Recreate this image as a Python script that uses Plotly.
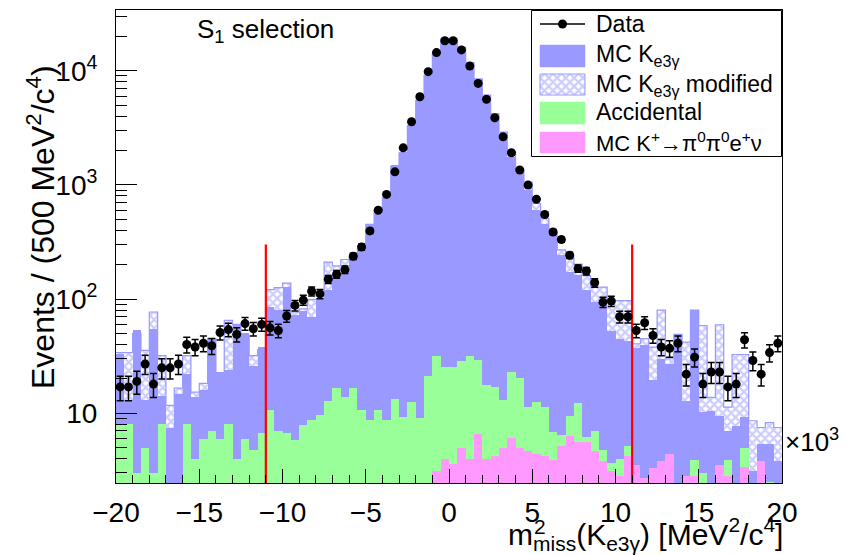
import numpy as np
import plotly.graph_objects as go

# ---------------------------------------------------------------------------
# Binning: m^2_miss(Ke3g) in units of 10^3 MeV^2/c^4, 80 bins of 0.5
# ---------------------------------------------------------------------------
x_lo, x_hi, bin_w = -20.0, 20.0, 0.5
n_bins = int(round((x_hi - x_lo) / bin_w))
centers = x_lo + bin_w * (np.arange(n_bins) + 0.5)

# Data counts per bin
data_counts = [
    17, 17, 19, 27, 18, 25, 25, 27, 40, 38, 41, 39, 51, 54, 49, 61,
    55, 60, 56, 53, 71, 88, 98, 117, 111, 149, 165, 181, 237, 286, 395, 600,
    825, 1300, 2110, 3570, 5910, 9800, 14400, 18300, 18300, 15200, 11000, 7740, 5610, 3870,
    2640, 1910, 1350, 995, 749, 550, 387, 332, 242, 185, 176, 139, 94, 96, 70, 70,
    53, 62, 48, 38, 37, 41, 22, 31, 18, 23, 23, 17, 18, 44, 29, 22, 34, 41,
]

# MC K+ -> pi0 pi0 e+ nu (bottom of the stack)
mc_pi0pi0enu = [0.0] * 38 + [
    3.1, 4.0, 3.6, 5.0, 4.0, 6.6, 4.0, 4.2, 5.0, 6.1, 5.0, 4.7, 4.4, 4.2, 3.9, 5.2,
    6.3, 5.6, 5.6, 4.7, 3.8, 3.1, 2.8, 4.2, 3.5, 2.7, 3.3, 3.8, 4.4, 0, 2.8, 2.8,
    0, 0, 3.5, 2.8, 0, 3.4, 0, 3.8, 0, 0,
]

# Accidental background
accidental = [
    8, 8, 3, 5, 3, 8, 0, 0, 8, 4, 6, 7, 6, 8, 4, 6,
    4.8, 6.7, 10.6, 7.0, 6.7, 5.8, 7.9, 8.7, 9.6, 12.9, 16.7, 14, 16.7, 10.7, 8.8, 10.6,
    8.8, 13.3, 9.3, 12.6, 9.0, 21,
    28.9, 21.5, 21.9, 23.5, 28, 22.6, 13.8, 12.7, 8, 16.7, 15.5, 6.6, 8.1, 7.1, 2.95, 1.3,
    3.2, 6.6, 0.6, 2.3, 0.95, 0.6, 1.2, 1.0, 0, 0, 0, 0, 0, 0, 0, 1.1,
    3.0, 0, 0, 1.1, 0, 1.6, 0, 0, 2.5, 0,
]

# MC Ke3g signal (top of the stack)
mc_ke3g = [
    25, 5, 51, 8, 52, 6.3, 7.5, 14.8, 14, 9.8, 10, 39, 17, 15.7, 57, 44,
    21.2, 31.3, 74.4, 74, 120.3, 66.2, 70.1, 61.3, 93.4, 106.1, 144.3, 171, 216.3, 266.3, 434.2, 550.4,
    751.2, 1476.7, 1940.7, 3327.4, 5521, 9149, 14168, 19474, 19474, 16171, 11718, 8371, 5982, 4073,
    2777, 1727, 1280, 889, 588, 447, 367, 235.5, 162.5, 150.8, 112.8, 87, 86.3, 48.3, 41, 37.8,
    33.5, 37.3, 16.1, 26.2, 22.6, 48, 10.1, 77.1, 7.2, 10.5, 6, 3.1, 7.7, 4.2, 3.1, 1.6, 2.9, 3.85,
]

# Alternative (modified) Ke3g MC, total expectation
mc_ke3g_modified = [
    34, 34, 50, 35.5, 77, 32, 11.7, 16.6, 32, 15.3, 18.3, 45, 22, 65, 60, 48,
    32, 36, 121, 126, 138, 77, 82, 99, 100, 211, 195, 222, 230, 275, 450, 590,
    770, 1450, 1900, 3300, 5500, 9100, 14000, 19000, 19000, 16000, 11800, 8500, 6100, 4200,
    2900, 1950, 1350, 1060, 687, 507, 385, 270, 233, 202, 160, 127, 127, 97, 97, 97,
    40.6, 45, 38, 80, 30, 49, 42, 80, 58.7, 13.8, 59.6, 11.3, 32.7, 32.7, 8.6, 7.5, 8.3, 7.5,
]

# Signal-region cuts and the height of the cut markers
cut_positions = [-11.0, 11.0]
cut_marker_top = 300.0

y_min, y_max = 2.45, 34000.0

# ---------------------------------------------------------------------------
BLUE = "#9999ff"
GREEN = "#99ff99"
PINK = "#ff99ff"
FONT = "Liberation Sans, Arial, Helvetica, sans-serif"
HATCH = dict(shape="x", fgcolor=BLUE, bgcolor="white", size=6, solidity=0.6)

pink = np.array(mc_pi0pi0enu, float)
acc_top = pink + np.array(accidental, float)
all_top = acc_top + np.array(mc_ke3g, float)
mod = np.array(mc_ke3g_modified, float)
data = np.array(data_counts, float)


def pos(a):
    a = np.asarray(a, float)
    return np.where(a > 0, a, np.nan)


fig = go.Figure()

bar_common = dict(x=centers, width=bin_w, marker_line_width=0, hoverinfo="skip", showlegend=False)

# modified MC, hatched, drawn behind the solid stack
fig.add_trace(go.Bar(y=pos(mod), marker=dict(color="white", pattern=HATCH), **bar_common))
# step outline of modified MC
step_x = np.repeat(x_lo + bin_w * np.arange(n_bins + 1), 2)[1:-1]
step_y = np.repeat(mod, 2)
fig.add_trace(go.Scatter(x=step_x, y=step_y, mode="lines", line=dict(color=BLUE, width=1.2),
                         hoverinfo="skip", showlegend=False))

# stacked solid histograms
fig.add_trace(go.Bar(y=pos(all_top), marker_color=BLUE, **bar_common))
fig.add_trace(go.Bar(y=pos(acc_top), marker_color=GREEN, **bar_common))
fig.add_trace(go.Bar(y=pos(pink), marker_color=PINK, **bar_common))

# cut lines
for c in cut_positions:
    fig.add_trace(go.Scatter(x=[c, c], y=[1.0, cut_marker_top], mode="lines",
                             line=dict(color="#ff0000", width=2.2), hoverinfo="skip", showlegend=False))

# data points
fig.add_trace(go.Scatter(
    x=centers, y=data, mode="markers",
    marker=dict(color="black", size=9),
    error_y=dict(type="data", array=np.sqrt(data), color="black", thickness=1.5, width=3.5),
    showlegend=False,
))

# ---------------------------------------------------------------------------
# Legend box, drawn on a pixel-coordinate overlay
L, R, T, B = 116, 782, 10, 483
W, H = R - L, B - T
ov = dict(xaxis="x2", yaxis="y2", hoverinfo="skip", showlegend=False)


def rect(x0, y0, x1, y1):
    return [x0, x1, x1, x0, x0], [y0, y0, y1, y1, y0]


def px(x):
    return (x - L) / W


def py(y):
    return (B - y) / H


bx, by = rect(531.5, 10.5, 781.5, 156.5)
fig.add_trace(go.Scatter(x=bx, y=by, mode="lines", fill="toself", fillcolor="white",
                         line=dict(color="black", width=1), **ov))
fig.add_trace(go.Scatter(x=[540, 585], y=[24, 24], mode="lines", line=dict(color="black", width=1.5), **ov))
fig.add_trace(go.Scatter(x=[562.5], y=[24], mode="markers", marker=dict(color="black", size=9), **ov))

sx, sy = rect(540, 45, 585, 67)
fig.add_trace(go.Scatter(x=sx, y=sy, mode="lines", fill="toself", fillcolor=BLUE,
                         line=dict(color=BLUE, width=0.5), **ov))
sx, sy = rect(540, 74, 585, 95)
fig.add_trace(go.Scatter(x=sx, y=sy, mode="lines", fill="toself", fillcolor="white",
                         fillpattern=HATCH, line=dict(color=BLUE, width=1), **ov))
sx, sy = rect(540, 102, 585, 124)
fig.add_trace(go.Scatter(x=sx, y=sy, mode="lines", fill="toself", fillcolor=GREEN,
                         line=dict(color=GREEN, width=0.5), **ov))
sx, sy = rect(540, 132, 585, 153)
fig.add_trace(go.Scatter(x=sx, y=sy, mode="lines", fill="toself", fillcolor=PINK,
                         line=dict(color=PINK, width=0.5), **ov))

legend_texts = [
    ("Data", 24, 23),
    ("MC K<sub>e3γ</sub>", 56, 23),
    ("MC K<sub>e3γ</sub> modified", 85, 23),
    ("Accidental", 112, 23),
    ("MC K<sup>+</sup>→π<sup>0</sup>π<sup>0</sup>e<sup>+</sup>ν", 142, 22),
]
annotations = []
for txt, yy, fs in legend_texts:
    annotations.append(dict(x=px(594), y=py(yy), xref="paper", yref="paper", text=txt, showarrow=False,
                            xanchor="left", yanchor="middle", font=dict(size=fs, color="black", family=FONT)))

TITLE_FS = 30
title_left = 506
annotations += [
    dict(x=px(195), y=py(31), xref="paper", yref="paper", text="S<sub>1</sub> selection", showarrow=False,
         xanchor="left", yanchor="middle", font=dict(size=26, color="black", family=FONT)),
    dict(x=px(41), y=py(227), xref="paper", yref="paper", text="Events / (500 MeV<sup>2</sup>/c<sup>4</sup>)",
         showarrow=False, textangle=-90, xanchor="center", yanchor="middle",
         font=dict(size=32, color="black", family=FONT)),
    # x-axis title: superscript 2 stacked above the "miss" subscript
    dict(x=px(title_left), y=py(534), xref="paper", yref="paper",
         text="m<sub>miss</sub>(K<sub>e3γ</sub>) [MeV<sup>2</sup>/c<sup>4</sup>]",
         showarrow=False, xanchor="left", yanchor="middle",
         font=dict(size=TITLE_FS, color="black", family=FONT)),
    dict(x=px(title_left + 0.833 * TITLE_FS + 1), y=py(526), xref="paper", yref="paper",
         text="2", showarrow=False, xanchor="left", yanchor="middle",
         font=dict(size=round(0.7 * TITLE_FS), color="black", family=FONT)),
    dict(x=px(783), y=py(440), xref="paper", yref="paper", text="×10<sup>3</sup>", showarrow=False,
         xanchor="left", yanchor="middle", font=dict(size=26, color="black", family=FONT)),
]

minor_y = [m * 10 ** e for e in range(0, 5) for m in range(2, 10) if y_min <= m * 10 ** e <= y_max]

fig.update_layout(
    width=860, height=555,
    margin=dict(l=L, r=860 - R, t=T, b=555 - B),
    paper_bgcolor="white", plot_bgcolor="white",
    barmode="overlay", bargap=0,
    showlegend=False,
    font=dict(family=FONT, color="black"),
    annotations=annotations,
    xaxis=dict(
        range=[x_lo, x_hi], showgrid=False, zeroline=False,
        showline=True, mirror=True, linecolor="black", linewidth=1,
        ticks="inside", ticklen=14, tickwidth=1, tickcolor="black",
        tickmode="array", tickvals=list(range(-20, 21, 5)),
        tickfont=dict(size=28, family=FONT, color="black"), ticklabelstandoff=4,
        minor=dict(ticks="inside", ticklen=8, tickwidth=1, tickcolor="black", dtick=1, tick0=0, showgrid=False),
    ),
    yaxis=dict(
        type="log", range=[np.log10(y_min), np.log10(y_max)], showgrid=False, zeroline=False,
        showline=True, mirror=True, linecolor="black", linewidth=1,
        ticks="inside", ticklen=21, tickwidth=1, tickcolor="black",
        tickmode="array", tickvals=[10, 100, 1000, 10000],
        ticktext=["10", "10<sup>2</sup>", "10<sup>3</sup>", "10<sup>4</sup>"],
        tickfont=dict(size=28, family=FONT, color="black"), ticklabelstandoff=12,
        minor=dict(ticks="inside", ticklen=11, tickwidth=1, tickcolor="black",
                   tickmode="array", tickvals=minor_y, showgrid=False),
    ),
    xaxis2=dict(overlaying="x", range=[L, R], visible=False, fixedrange=True),
    yaxis2=dict(overlaying="y", range=[B, T], visible=False, fixedrange=True),
)

fig.write_html("out.html")
